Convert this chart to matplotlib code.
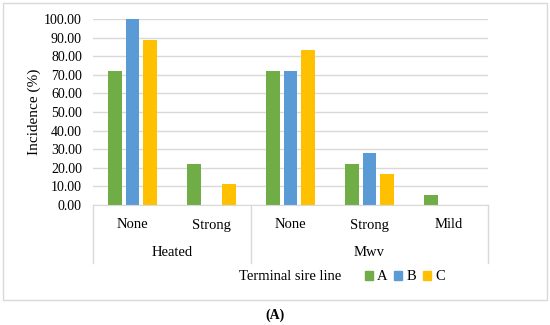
import matplotlib.pyplot as plt
import matplotlib.transforms as transforms
from matplotlib.patches import Rectangle, Patch
import numpy as np

plt.rcParams['font.family'] = ['Liberation Serif', 'DejaVu Serif']

groups = ["Heated", "Mwv"]
categories = ["None", "Strong", "None", "Strong", "Mild"]
group_sizes = [2, 3]
series = ["A", "B", "C"]
values_a = [72.22, 22.22, 72.22, 22.22, 5.56]
values_b = [100.00, 0.0, 72.22, 27.78, 0.0]
values_c = [88.89, 11.11, 83.33, 16.67, 0.0]
colors = ["#70AD47", "#5B9BD5", "#FFC000"]
yticks = np.arange(0, 101, 10)

W, H = 550, 325
fig = plt.figure(figsize=(W / 100, H / 100), dpi=100)
ax = fig.add_axes([93 / W, 1 - 205 / H, 395 / W, 186 / H])

x = np.arange(len(categories))
bw = 0.17
step = 0.22
for i, (vals, c) in enumerate(zip([values_a, values_b, values_c], colors)):
    ax.bar(x + (i - 1) * step, vals, width=bw, color=c, zorder=3)

ax.set_xlim(-0.5, len(categories) - 0.5)
ax.set_ylim(0, 100)
ax.set_yticks(yticks)
ax.set_yticklabels([f"{v:.2f}" for v in yticks], fontsize=10)
ax.yaxis.grid(True, color="#D9D9D9", linewidth=1, zorder=0)
ax.tick_params(axis="y", length=0, pad=8)
ax.set_xticks([])
for s in ["top", "right", "left"]:
    ax.spines[s].set_visible(False)
ax.spines["bottom"].set_color("#D9D9D9")
ax.spines["bottom"].set_zorder(4)
ax.set_ylabel("Incidence (%)", fontsize=11, labelpad=2)

# multi-level category axis
tr = transforms.blended_transform_factory(ax.transData, fig.transFigure)
for xi, lab in zip(x, categories):
    ax.text(xi, 1 - 225 / H, lab, transform=tr, ha="center", va="center", fontsize=10.5)
start = 0
bounds = [-0.5]
for g, n in zip(groups, group_sizes):
    ax.text(start + (n - 1) / 2, 1 - 253 / H, g, transform=tr, ha="center", va="center", fontsize=10.5)
    start += n
    bounds.append(start - 0.5)
for b in bounds:
    ax.plot([b, b], [1 - 205 / H, 1 - 263 / H], transform=tr, color="#D9D9D9",
            linewidth=1, clip_on=False)

# legend
fig.text(290 / W, 1 - 277 / H, "Terminal sire line", ha="center", va="center", fontsize=10.5)
handles = [Patch(color=c, label=s) for c, s in zip(colors, series)]
fig.legend(handles=handles, loc="center", bbox_to_anchor=(405 / W, 1 - 277 / H), ncol=3,
           frameon=False, fontsize=10.5, handlelength=0.55, handleheight=0.55,
           handletextpad=0.3, columnspacing=0.45, borderpad=0)

# outer border and caption
fig.patches.append(Rectangle((3 / W, 1 - 300 / H), 544 / W, 297 / H, transform=fig.transFigure,
                             fill=False, edgecolor="#D9D9D9", linewidth=1))
fig.text(0.5, 1 - 315 / H, "(A)", ha="center", va="center", fontsize=10, fontweight="bold")

fig.savefig("out.png", dpi=100)
